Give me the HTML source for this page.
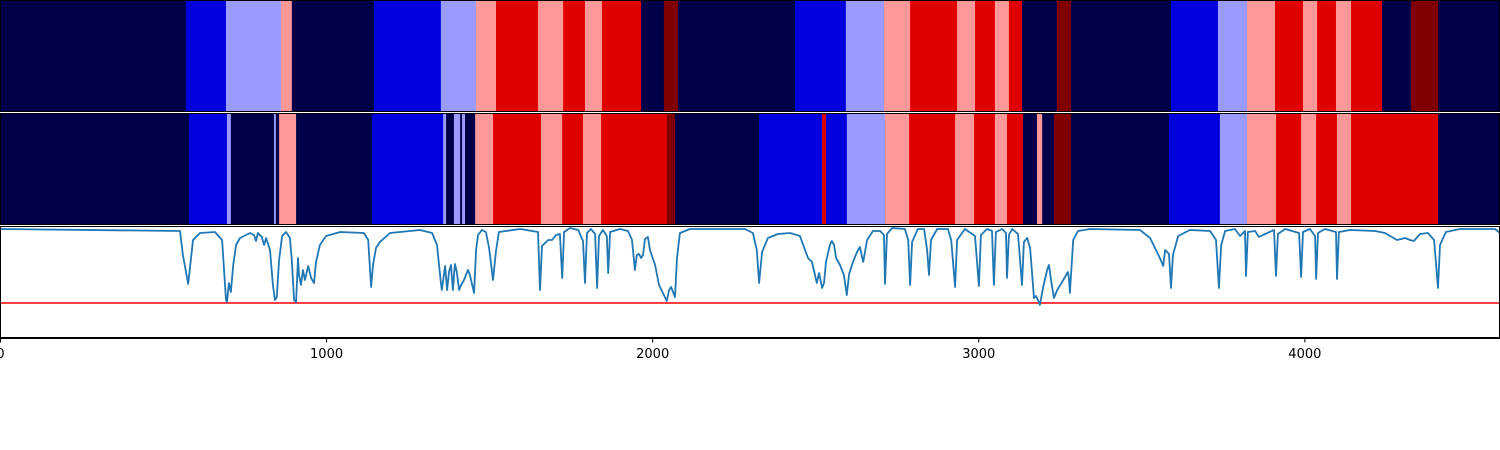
<!DOCTYPE html>
<html><head><meta charset="utf-8"><style>
html,body{margin:0;padding:0;background:#fff;width:1500px;height:450px;overflow:hidden}
svg text{font-family:"DejaVu Sans","Liberation Sans",sans-serif;font-size:13px;fill:#000}
</style></head><body>
<svg id="chart" width="1500" height="450" viewBox="0 0 1500 450" xmlns="http://www.w3.org/2000/svg">
<g id="row1"></g>
<g id="row2"></g>
<g id="spec"></g>
<g id="xaxis"></g>
</svg>
<script>
const row1Ends=[570,693,862,895,1147,1352,1460,1521,1650,1727,1794,1846,1966,2036,2079,2438,2594,2711,2791,2935,2990,3051,3094,3134,3241,3284,3591,3735,3824,3910,3996,4039,4097,4143,4238,4327,4410,4600];
const row1Levels=[0,1,2,3,0,1,2,3,4,3,4,3,4,0,5,0,1,2,3,4,3,4,3,4,0,5,0,1,2,3,4,3,4,3,4,0,5,0];
const row2Ends=[580,696,708,840,846,856,908,1141,1359,1368,1392,1411,1417,1426,1457,1512,1659,1724,1788,1843,2045,2070,2328,2521,2533,2597,2714,2788,2929,2987,3051,3088,3137,3180,3196,3232,3284,3585,3741,3824,3913,3990,4036,4100,4143,4410,4600];
const row2Levels=[0,1,2,0,2,0,3,0,1,2,0,2,0,2,0,3,4,3,4,3,4,5,0,1,4,1,2,3,4,3,4,3,4,0,3,0,5,0,1,2,3,4,3,4,3,4,0];
const specX=[0,552,561,577,592,613,659,681,693,696,702,708,715,724,736,767,779,785,791,803,810,816,828,837,843,849,856,865,877,889,895,902,908,914,917,923,929,935,945,954,963,969,981,1000,1043,1116,1129,1138,1144,1153,1165,1196,1288,1325,1340,1352,1355,1365,1371,1377,1383,1389,1395,1401,1408,1414,1423,1435,1441,1454,1460,1466,1478,1490,1500,1512,1521,1530,1595,1650,1656,1662,1681,1693,1705,1717,1724,1730,1748,1773,1788,1794,1800,1812,1825,1831,1837,1849,1861,1865,1871,1901,1926,1938,1947,1953,1960,1966,1972,1978,1987,1993,2009,2021,2036,2045,2052,2058,2064,2070,2076,2085,2116,2285,2309,2321,2328,2337,2355,2386,2423,2453,2478,2490,2505,2512,2521,2527,2533,2545,2551,2558,2564,2576,2588,2597,2604,2616,2628,2637,2647,2659,2677,2699,2711,2714,2720,2736,2775,2785,2791,2797,2815,2834,2843,2849,2855,2874,2907,2917,2929,2935,2959,2990,3002,3008,3027,3042,3048,3054,3073,3085,3088,3094,3104,3122,3134,3140,3150,3159,3171,3177,3186,3189,3199,3211,3217,3223,3232,3242,3257,3275,3278,3281,3291,3306,3343,3496,3527,3557,3567,3573,3585,3591,3597,3613,3649,3711,3729,3738,3745,3757,3787,3803,3818,3821,3827,3849,3861,3873,3907,3913,3919,3941,3984,3990,3996,4017,4033,4036,4042,4063,4097,4100,4106,4140,4217,4247,4284,4309,4324,4336,4355,4379,4398,4410,4416,4434,4477,4585,4600];
const specY=[74,72,48,19,63,70,71,63,3,1,20,11,38,58,65,70,68,62,70,66,58,65,53,18,3,6,43,67,71,65,43,3,1,45,28,18,33,23,37,25,20,41,58,67,71,70,63,16,38,55,61,70,73,70,58,20,13,37,13,31,38,13,39,31,13,18,23,33,28,10,53,68,73,71,55,23,52,71,74,71,13,57,63,63,68,69,25,71,75,73,62,20,70,74,69,15,67,73,67,30,71,74,72,63,33,48,49,45,48,64,66,53,38,18,8,2,13,16,11,6,45,70,74,74,70,53,20,51,65,69,70,67,45,41,20,30,15,20,41,58,62,58,45,38,28,8,29,41,51,56,41,63,72,72,68,19,69,75,74,63,18,61,74,74,53,28,63,74,74,63,16,63,74,67,17,68,74,72,18,71,74,70,25,68,74,69,18,61,65,55,5,7,1,-2,16,33,38,23,5,13,21,31,25,10,63,72,74,73,65,45,37,53,49,15,48,67,73,72,63,15,58,72,74,67,72,27,71,72,66,68,73,27,69,74,70,26,71,74,67,24,70,74,71,24,71,73,72,70,63,65,63,62,69,70,63,15,58,71,74,74,70];
const threshold=[0];
const xTicks=[0,1000,2000,3000,4000];
const xTickLabels=["0","1000","2000","3000","4000"];
const colors=["#000049","#0000dd","#9b9bff","#ff9999","#e10000","#800000"];
const NS="http://www.w3.org/2000/svg";
const W=1500, XMAX=4600;
function sx(v){return v/XMAX*W;}
function sy(v){return 303-v;}
function mk(tag,attrs,parent){const e=document.createElementNS(NS,tag);for(const k in attrs)e.setAttribute(k,attrs[k]);parent.appendChild(e);return e;}
function strip(ends,levels,g,y0,h,nm){
  let prev=0;
  ends.forEach((e,i)=>{
    const r=mk('rect',{x:sx(prev),y:y0,width:Math.max(sx(e)-sx(prev),0.5)+0.4,height:h,fill:colors[levels[i]]},g);
    
    
    prev=e;
  });
}
strip(row1Ends,row1Levels,document.getElementById('row1'),0,112,'predicted-band');
strip(row2Ends,row2Levels,document.getElementById('row2'),113,112,'reference-band');
const sp=document.getElementById('spec');
mk('rect',{x:0,y:226,width:1500,height:112,fill:'#fff'},sp);
const th=mk('line',{x1:0,x2:1500,y1:sy(threshold[0]),y2:sy(threshold[0]),stroke:'#ff0000','stroke-width':1.5},sp);


const d=specX.map((x,i)=>(i?'L':'M')+sx(x).toFixed(1)+','+sy(specY[i]).toFixed(1)).join('');
const ln=mk('path',{d:d,fill:'none',stroke:'#1f77b4','stroke-width':1.8,'stroke-linejoin':'round'},sp);


const svg=document.getElementById('chart');
[[0,112],[113,112],[226,112]].forEach((p,i)=>{
  const f=mk('rect',{x:0.5,y:p[0]+0.5,width:1499,height:p[1]-1,fill:'none',stroke:'#000','stroke-width':1},svg);
  
  
});
mk('line',{x1:0,x2:1500,y1:112.5,y2:112.5,stroke:'#fff','stroke-width':1},svg);
mk('line',{x1:0,x2:1500,y1:225.5,y2:225.5,stroke:'#fff','stroke-width':1},svg);
const xa=document.getElementById('xaxis');
mk('line',{x1:0,x2:1500,y1:338.5,y2:338.5,stroke:'#000','stroke-width':1},xa);
xTicks.forEach((t,i)=>{
  const tk=mk('line',{x1:sx(t)+0.5,x2:sx(t)+0.5,y1:338,y2:342.5,stroke:'#000','stroke-width':1},xa);
  
  
  const tx=mk('text',{x:sx(t)+0.5,y:358,'text-anchor':'middle'},xa);
  tx.textContent=xTickLabels[i];
  
  
});
</script>
</body></html>
